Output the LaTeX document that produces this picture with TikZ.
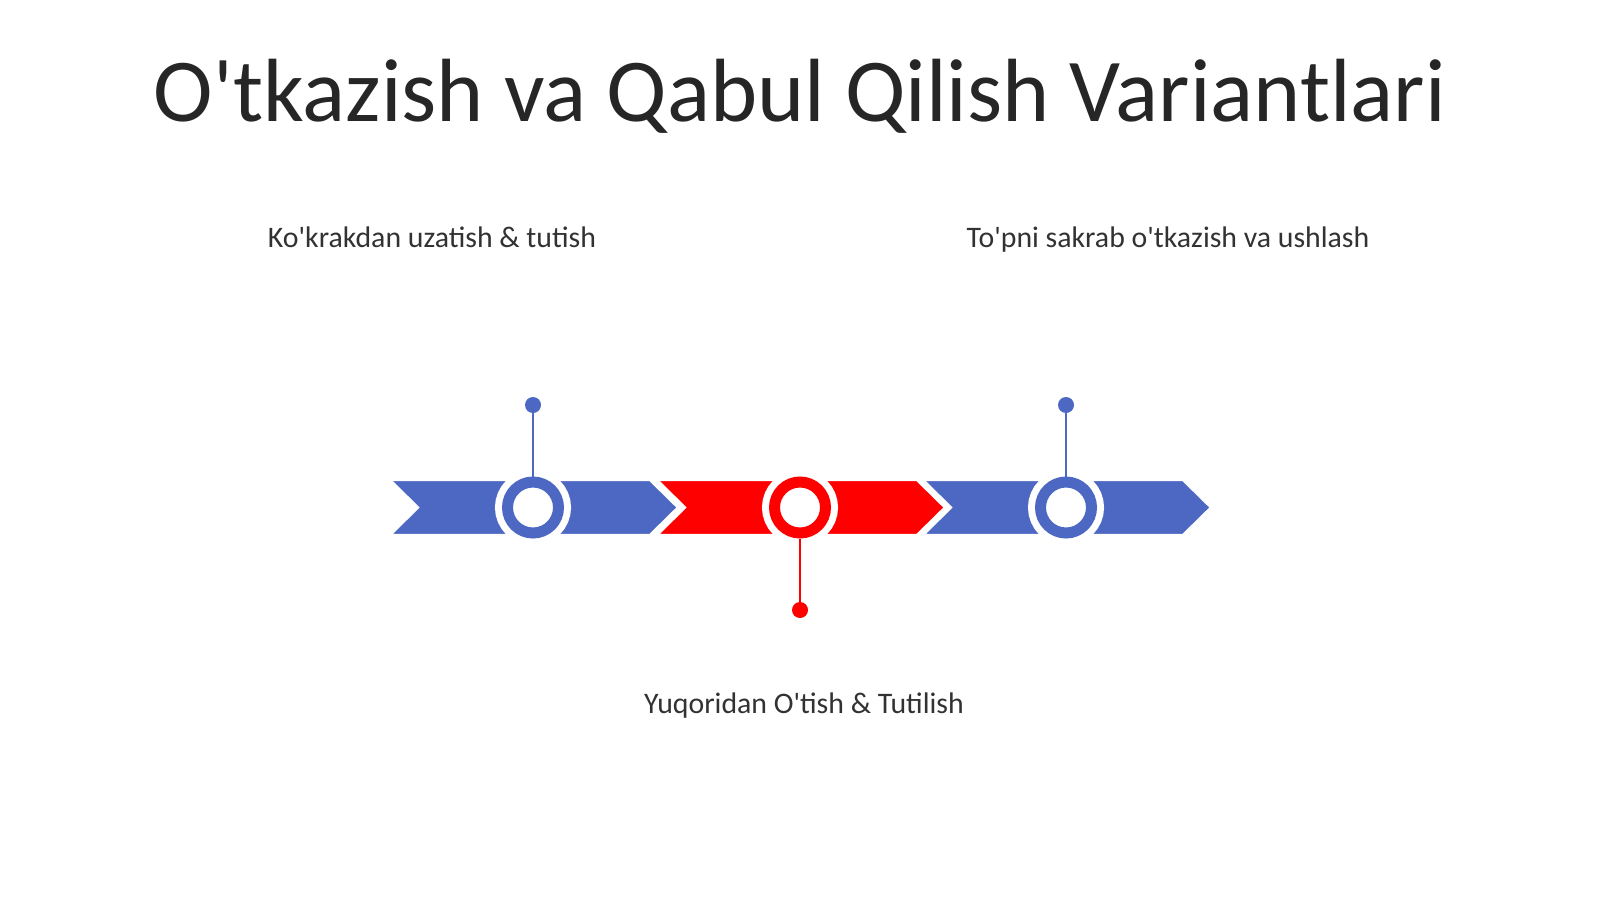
\documentclass[tikz,border=0pt]{standalone}
\usepackage{fontspec}
\setmainfont{Carlito}
\usepackage{tikz}
\definecolor{chevblue}{RGB}{76,104,194}
\definecolor{chevred}{RGB}{255,0,0}
\definecolor{titlegray}{RGB}{38,38,38}
\definecolor{labelgray}{RGB}{50,50,50}
\newcommand{\ap}{\textquotesingle}
\tikzset{
	ring/.style={circle, draw=#1, fill=white, line width=5.5pt, minimum size=25.5pt, inner sep=0pt,
		preaction={draw=white, line width=12.5pt}},
	pindot/.style={circle, fill=#1, minimum size=8pt, inner sep=0pt},
	pinline/.style={draw=#1, line width=1.3pt},
	caption/.style={text=labelgray, font=\fontsize{14.9}{17}\selectfont, anchor=base}
}

\begin{document}
\begin{tikzpicture}[x=0.5pt, y=-0.5pt]
			\useasboundingbox (0,0) rectangle (1600,899);
			\node [text=titlegray, font=\fontsize{44.9}{50}\selectfont, anchor=base] (title) at (800,121) {O\ap tkazish va Qabul Qilish Variantlari};
			% chevrons
			\foreach \x/\c in {390/chevblue, 657/chevred, 923/chevblue}
				\draw [fill=\c, draw=white, line width=1.2pt] (\x,480) -- (\x+260,480) -- (\x+288,507.5) -- (\x+260,535) -- (\x,535) -- (\x+28,507.5) -- cycle;
			% rings and pins
			\node [ring=chevblue] (c1) at (533,507.5) {};
			\node [ring=chevred] (c2) at (800,507.5) {};
			\node [ring=chevblue] (c3) at (1066,507.5) {};
			\node [pindot=chevblue] (d1) at (533,405) {};
			\node [pindot=chevred] (d2) at (800,610) {};
			\node [pindot=chevblue] (d3) at (1066,405) {};
			\draw [pinline=chevblue] (d1) -- (c1);
			\draw [pinline=chevred] (c2) -- (d2);
			\draw [pinline=chevblue] (d3) -- (c3);
			\node [caption] (t1) at (432,247) {Ko\ap krakdan uzatish \& tutish};
			\node [caption] (t2) at (1168,247) {To\ap pni sakrab o\ap tkazish va ushlash};
			\node [caption] (t3) at (804,713) {Yuqoridan O\ap tish \& Tutilish};
			\end{tikzpicture}
\end{document}
